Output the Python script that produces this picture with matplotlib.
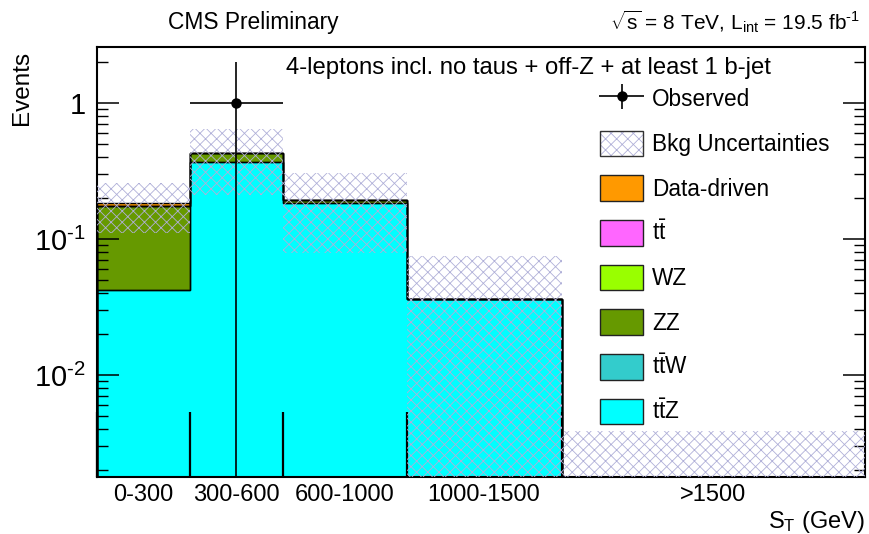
import numpy as np
import matplotlib
matplotlib.use("Agg")
import matplotlib.pyplot as plt
from matplotlib.patches import Patch
from matplotlib.legend_handler import HandlerTuple, HandlerErrorbar
from matplotlib.container import ErrorbarContainer
from matplotlib.ticker import FixedLocator, LogLocator, NullFormatter

plt.rcParams["font.family"] = "Liberation Sans"
plt.rcParams["mathtext.fontset"] = "custom"
plt.rcParams["mathtext.rm"] = "Liberation Sans"
plt.rcParams["mathtext.it"] = "Liberation Sans:italic"
plt.rcParams["hatch.linewidth"] = 0.6

# --- S_T bins ------------------------------------------------------------
edges = [0, 300, 600, 1000, 1500, 2480]
bin_labels = ["0-300", "300-600", "600-1000", "1000-1500", ">1500"]

# --- expected backgrounds (stacked, bottom to top) -----------------------
ttZ = [0.042, 0.368, 0.184, 0.036, 0.0]
ttW = [0.0, 0.0, 0.0, 0.0, 0.0]
ZZ = [0.133, 0.059, 0.009, 0.0, 0.0]
WZ = [0.0, 0.0, 0.0, 0.0, 0.0]
ttbar = [0.0, 0.0, 0.0, 0.0, 0.0]
data_driven = [0.009, 0.0, 0.0, 0.0, 0.0]
bkg_err = [0.074, 0.217, 0.114, 0.039, 0.0039]

# --- observed counts ------------------------------------------------------
observed = [0, 1, 0, 0, 0]

stack = [
    (ttZ, "#00ffff", r"$\mathrm{t\bar{t}Z}$"),
    (ttW, "#33cccc", r"$\mathrm{t\bar{t}W}$"),
    (ZZ, "#669900", "ZZ"),
    (WZ, "#99ff00", "WZ"),
    (ttbar, "#ff66ff", r"$\mathrm{t\bar{t}}$"),
    (data_driven, "#ff9900", "Data-driven"),
]

FLOOR = 1e-6
HATCH_COL = "#b0b0d8"
HATCH = "xxx"

fig = plt.figure(figsize=(8.69, 5.34), dpi=100)
ax = fig.add_axes([97 / 869, 57 / 534, 768 / 869, 430 / 534])
ax.set_yscale("log")

edges_a = np.array(edges, dtype=float)
centers = 0.5 * (edges_a[:-1] + edges_a[1:])
widths = np.diff(edges_a)

# stacked fills plus a black step outline for every layer
bottom = np.zeros(len(centers))
for vals, col, _ in stack:
    top = bottom + np.array(vals)
    ax.stairs(np.maximum(top, FLOOR), edges_a,
              baseline=np.maximum(bottom, FLOOR),
              fill=True, color=col, lw=0, zorder=1)
    ax.stairs(np.maximum(top, FLOOR), edges_a, baseline=FLOOR,
              color="black", lw=1.0, zorder=2)
    bottom = top
total = bottom

# background uncertainty band
err = np.array(bkg_err)
lo = np.maximum(total - err, FLOOR)
hi = total + err
ax.bar(edges_a[:-1], hi - lo, width=widths, bottom=lo, align="edge",
       facecolor="none", edgecolor=HATCH_COL, linewidth=0, hatch=HATCH,
       zorder=3)

# observed points (only non-empty bins are shown on the log scale)
obs = np.array(observed, dtype=float)
sel = obs > 0
data_h = ax.errorbar(centers[sel], obs[sel], xerr=widths[sel] / 2,
                     yerr=np.sqrt(obs[sel]), fmt="o", color="black",
                     ms=6.5, lw=1.2, capsize=0, zorder=5)

ax.set_xlim(edges_a[0], edges_a[-1])
ax.set_ylim(10 ** -2.75, 10 ** 0.412)

# y axis: ROOT-like ticks on both sides
ax.set_yticks([0.01, 0.1, 1],
              labels=[r"10$^{\text{-2}}$", r"10$^{\text{-1}}$", "1"])
ax.yaxis.set_minor_locator(LogLocator(subs=np.arange(2, 10)))
ax.yaxis.set_minor_formatter(NullFormatter())
ax.tick_params(axis="y", which="major", direction="in", length=16,
               width=1.1, labelsize=21, right=True, pad=8)
ax.tick_params(axis="y", which="minor", direction="in", length=8,
               width=1.0, right=True)

# x axis: long ticks at bin edges, labels at bin centres
ax.xaxis.set_major_locator(FixedLocator(edges[:-1]))
ax.xaxis.set_major_formatter(NullFormatter())
ax.xaxis.set_minor_locator(FixedLocator(centers))
ax.set_xticklabels(bin_labels, minor=True)
ax.tick_params(axis="x", which="major", direction="in", length=47,
               width=1.6)
ax.tick_params(axis="x", which="minor", length=0, labelsize=17, pad=5)

for s in ax.spines.values():
    s.set_linewidth(1.5)

ax.text(1.0, -0.105, r"S$_{\mathrm{T}}$ (GeV)", transform=ax.transAxes,
        ha="right", va="center", fontsize=17)
fig.text(22 / 869, 1 - 51 / 534, "Events", rotation=90, ha="center",
         va="top", fontsize=17.5)

fig.text(253 / 869, 1 - 22 / 534, "CMS Preliminary", ha="center",
         va="center", fontsize=16.4)
fig.text(860 / 869, 1 - 22 / 534,
         r"$\sqrt{\mathrm{s}}$ = 8 TeV, L$_{\mathrm{int}}$ = 19.5 fb$^{\text{-1}}$",
         ha="right", va="center", fontsize=15)
ax.text((528 - 97) / 768, (477 - 68) / 430,
        "4-leptons incl. no taus + off-Z + at least 1 b-jet",
        transform=ax.transAxes, ha="center", va="center", fontsize=17.2)

# legend
band_h = (Patch(facecolor="white", edgecolor=HATCH_COL, lw=0, hatch=HATCH),
          Patch(facecolor="none", edgecolor="#333333", lw=1.0))
handles = [data_h, band_h]
labels = ["Observed", "Bkg Uncertainties"]
for vals, col, lab in reversed(stack):
    handles.append(Patch(facecolor=col, edgecolor="#222222", lw=1.0))
    labels.append(lab)

ax.legend(handles, labels, loc="upper left",
          bbox_to_anchor=((600 - 97) / 768, (477 - 86) / 430),
          frameon=False, fontsize=16.3, handlelength=1.9, handleheight=1.38,
          handletextpad=0.4, labelspacing=0.83, borderpad=0,
          borderaxespad=0,
          handler_map={tuple: HandlerTuple(ndivide=1, pad=0),
                       ErrorbarContainer: HandlerErrorbar(xerr_size=1.0,
                                                          yerr_size=0.55)})

fig.savefig("out.png", dpi=100)
